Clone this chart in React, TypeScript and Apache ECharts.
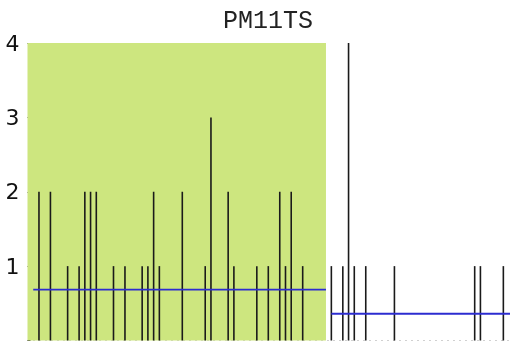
import React, { useEffect, useRef } from "react";
import * as echarts from "echarts";

const titleText = "PM11TS";
const spikeX = [2, 4, 7, 9, 10, 11, 12, 15, 17, 20, 21, 22, 23, 27, 31, 32, 35, 36, 40, 42, 44, 45, 46, 48, 53, 55, 56, 57, 59, 64, 78, 79, 83];
const spikeH = [2, 2, 1, 1, 2, 2, 2, 1, 1, 1, 1, 2, 1, 2, 1, 3, 2, 1, 1, 1, 2, 1, 2, 1, 1, 1, 4, 1, 1, 1, 1, 1, 1];
const highlightStart = 0;
const highlightEnd = 52.06;
const meanStart = [1, 53];
const meanEnd = [52.06, 84.16];
const meanValue = [0.684, 0.36];
const yTicks = [1, 2, 3, 4];
const xMax = 84.16;

export default function App() {
  const ref = useRef<HTMLDivElement>(null);
  useEffect(() => {
    const chart = echarts.init(ref.current!, null, { renderer: "svg" });
    const spikes = spikeX.map((x, i) => [x, spikeH[i]]);
    const meanSeries = meanValue.map((m, i) => ({
      type: "line",
      data: [
        [meanStart[i], m],
        [meanEnd[i], m],
      ],
      symbol: "none",
      lineStyle: { color: "#2c2cd0", width: 1.8 },
      z: 5,
    }));
    chart.setOption({
      animation: false,
      grid: { left: 27.5, right: 0, top: 43, bottom: 0.5 },
      xAxis: {
        type: "value",
        min: 0,
        max: xMax,
        axisLine: { show: true, lineStyle: { color: "#ccc", type: [1, 5] } },
        axisTick: { show: false },
        axisLabel: { show: false },
        splitLine: { show: false },
      },
      yAxis: {
        type: "value",
        min: 0,
        max: 4,
        interval: 1,
        axisLine: { show: false },
        axisTick: { show: true, inside: true, length: 3, lineStyle: { color: "#333" } },
        axisLabel: {
          fontFamily: "DejaVu Sans",
          fontSize: 22,
          color: "#111",
          margin: 8,
          formatter: (v: number) => (yTicks.includes(v) ? String(v) : ""),
        },
        splitLine: { show: false },
      },
      graphic: [
        {
          type: "text",
          x: 268,
          y: 21,
          style: {
            text: titleText,
            textAlign: "center",
            textVerticalAlign: "middle",
            fontFamily: "Liberation Mono",
            fontSize: 25,
            fill: "#222",
          },
        },
      ],
      series: [
        {
          type: "bar",
          data: spikes,
          barWidth: 1.6,
          itemStyle: { color: "#1a1a1a" },
          z: 3,
          markArea: {
            silent: true,
            itemStyle: { color: "#cde67f" },
            data: [[{ xAxis: highlightStart, yAxis: 0 }, { xAxis: highlightEnd, yAxis: 4 }]],
          },
        },
        ...meanSeries,
      ],
    });
    return () => chart.dispose();
  }, []);
  return (
    <div
      ref={ref}
      style={{ position: "fixed", left: 0, top: 0, width: 510, height: 341 }}
    />
  );
}
